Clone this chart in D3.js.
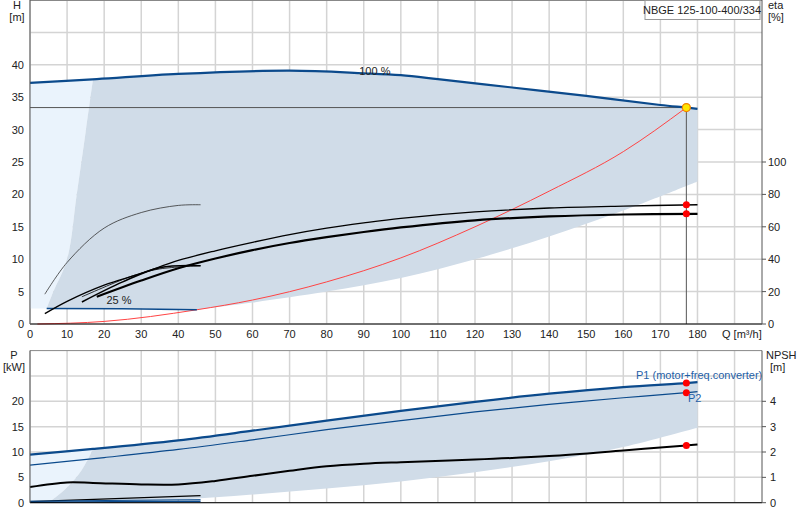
<!DOCTYPE html><html><head><meta charset="utf-8"><script src="https://cdn.jsdelivr.net/npm/d3@7"></script>
<style>body{margin:0;background:#fff}text{font-family:Arial,"Liberation Sans",sans-serif;font-size:11px;fill:#222}</style></head><body><svg id="c" width="800" height="520"></svg><script>
const qTicks=[0,10,20,30,40,50,60,70,80,90,100,110,120,130,140,150,160,170,180];
const hTicks=[0,5,10,15,20,25,30,35,40];
const etaTicks=[0,20,40,60,80,100];
const pTicks=[0,5,10,15,20];
const npshTicks=[0,1,2,3,4];
const head100=[[0,37.2],[18,37.8],[40,38.6],[70,39.1],[90,38.7],[100,38.4],[110,37.8],[130,36.5],[150,35.2],[170,33.8],[177,33.4],[180,33.2]];
const head25=[[4.5,2.4],[25,2.35],[45,2.2]];
const leftEdge=[[4.5,2.4],[6.3,5],[10,10],[12.6,20],[15.1,30],[17,37.8]];
const lowerEdge=[[180,22],[160,17.5],[140,13.5],[120,10],[100,7.1],[80,5],[60,3.3],[45,2.2]];
const system=[[2,0],[20,0.4],[45,2.2],[60,3.7],[80,6.5],[100,10.2],[120,15],[140,20.5],[160,26.6],[177,33.4]];
const etaUpper=[[4,6.4],[10,14],[20,24],[30,31.2],[40,39.2],[50,45.2],[60,50.4],[70,55.2],[80,59.2],[90,62.4],[100,65.2],[120,69.2],[140,71.6],[160,72.8],[180,73.6]];
const etaLower=[[18,16.8],[30,26.8],[40,34.4],[50,40.4],[60,45.6],[70,50],[80,53.6],[90,56.8],[100,59.6],[120,64],[140,66.4],[160,67.6],[180,68]];
const etaSmall=[[4,18.4],[10,38],[20,59.2],[30,68.8],[40,73.2],[46,73.6]];
const etaSmallA=[[14,13.6],[25,26],[35,34.8],[46,36]];
const etaSmallB=[[14,16.8],[28,30],[35,34],[46,36]];
const p1=[[0,9.5],[17,10.6],[40,12.3],[60,14.2],[80,16.2],[100,18.1],[120,19.9],[140,21.5],[160,22.8],[177,23.6],[180,23.8]];
const p2=[[0,7.4],[20,8.9],[40,10.5],[60,12.4],[80,14.4],[100,16.2],[120,17.9],[140,19.4],[160,20.7],[177,21.7],[180,21.9]];
const npsh=[[0,0.62],[10,0.8],[17,0.78],[30,0.72],[40,0.72],[50,0.86],[60,1.06],[70,1.26],[80,1.44],[90,1.54],[100,1.6],[120,1.7],[140,1.84],[160,2.06],[177,2.26],[180,2.3]];
const pLeftEdge=[[5,0],[10,3],[14,6.5],[17,10.6]];
const pLowerEdge=[[180,14.8],[160,11],[140,8.2],[120,6],[100,4.2],[80,2.8],[60,1.6],[40,0.6],[20,0.1],[5,0]];
const pSmall=[[0,0.2],[46,1.4]], pSmallB1=[[0,0.3],[46,0.6]], pSmallB2=[[0,0.1],[46,0.3]];
const duty=[177,33.4];

const svg=d3.select("#c");
const x=d3.scaleLinear().domain([0,197.4]).range([30,762]);
const y=d3.scaleLinear().domain([0,50]).range([324,0]);
const ye=d3.scaleLinear().domain([0,200]).range([324,0]);
const yp=d3.scaleLinear().domain([0,30]).range([502.7,350.6]);
const yn=d3.scaleLinear().domain([0,6]).range([502.7,350.6]);
const line=(ys)=>d3.line().x(d=>x(d[0])).y(d=>ys(d[1])).curve(d3.curveMonotoneX);
const lineC=(ys)=>d3.line().x(d=>x(d[0])).y(d=>ys(d[1])).curve(d3.curveCatmullRom);
const grid="#d4d4d4";
// top grid
const gq=qTicks.concat([190]);
svg.selectAll(".vg").data(gq).join("line").attr("x1",d=>x(d)).attr("x2",d=>x(d)).attr("y1",0).attr("y2",324).attr("stroke",grid).attr("stroke-width",1.5);
svg.selectAll(".hg").data(hTicks.concat([45])).join("line").attr("x1",30).attr("x2",762).attr("y1",d=>y(d)).attr("y2",d=>y(d)).attr("stroke",grid).attr("stroke-width",1.5);
// top regions
const upTo17=head100.filter(d=>d[0]<=18);
svg.append("path").attr("d",lineC(y)(head100.filter(d=>d[0]<=18)).replace(/^M/,"M")+"L"+x(leftEdge[5][0])+","+y(leftEdge[5][1])+lineC(y)(leftEdge.slice().reverse()).replace(/^M/,"L")+"L"+x(0)+","+y(2.4)+"Z").attr("fill","#eaf3fc");
const darkTop=head100.filter(d=>d[0]>=18);
let dpath=lineC(y)([leftEdge[5]].concat(darkTop))+lineC(y)(lowerEdge).replace(/^M/,"L")+lineC(y)(head25.slice().reverse()).replace(/^M/,"L")+lineC(y)(leftEdge).replace(/^M/,"L")+"Z";
svg.append("path").attr("d",dpath).attr("fill","#d0dce8");
// duty lines
svg.append("line").attr("x1",30).attr("x2",x(duty[0])).attr("y1",y(duty[1])).attr("y2",y(duty[1])).attr("stroke","#555");
svg.append("line").attr("x1",x(duty[0])).attr("x2",x(duty[0])).attr("y1",y(duty[1])).attr("y2",324).attr("stroke","#555");
// curves
svg.append("path").attr("d",line(y)(system)).attr("fill","none").attr("stroke","#f44").attr("stroke-width",1);
svg.append("path").attr("d",lineC(y)(head100)).attr("fill","none").attr("stroke","#0b4a8c").attr("stroke-width",2.2);
svg.append("path").attr("d",line(y)(head25)).attr("fill","none").attr("stroke","#0b4a8c").attr("stroke-width",1.5);
svg.append("path").attr("d",lineC(ye)(etaUpper)).attr("fill","none").attr("stroke","#000").attr("stroke-width",1.3);
svg.append("path").attr("d",lineC(ye)(etaLower)).attr("fill","none").attr("stroke","#000").attr("stroke-width",2.2);
svg.append("path").attr("d",lineC(ye)(etaSmall)).attr("fill","none").attr("stroke","#333").attr("stroke-width",0.8);
svg.append("path").attr("d",lineC(ye)(etaSmallA)).attr("fill","none").attr("stroke","#000").attr("stroke-width",1.6);
svg.append("path").attr("d",lineC(ye)(etaSmallB)).attr("fill","none").attr("stroke","#000").attr("stroke-width",0.8);
svg.append("text").attr("x",x(93)).attr("y",y(38.4)).attr("text-anchor","middle").text("100 %");
svg.append("text").attr("x",x(24)).attr("y",y(3.1)).attr("text-anchor","middle").text("25 %");
[[duty[0],etaUpper[etaUpper.length-1][1]*0+73.6],[duty[0],68]].forEach(d=>svg.append("circle").attr("cx",x(d[0])).attr("cy",ye(d[1])).attr("r",3.5).attr("fill","#f00"));
svg.append("circle").attr("cx",x(duty[0])).attr("cy",y(duty[1])).attr("r",4).attr("fill","#ffe600").attr("stroke","#f08000").attr("stroke-width",1.2);
// top axes
svg.append("line").attr("x1",30).attr("x2",762).attr("y1",324).attr("y2",324).attr("stroke","#000");
svg.append("line").attr("x1",30).attr("x2",762).attr("y1",0.5).attr("y2",0.5).attr("stroke","#888");
svg.append("line").attr("x1",30).attr("x2",30).attr("y1",0).attr("y2",324).attr("stroke","#555");
svg.append("line").attr("x1",762).attr("x2",762).attr("y1",0).attr("y2",324).attr("stroke","#555");
svg.selectAll(".ht").data(hTicks).join("text").attr("x",24).attr("y",d=>y(d)+4).attr("text-anchor","end").text(d=>d);
svg.selectAll(".qt").data(qTicks).join("text").attr("x",d=>x(d)).attr("y",338).attr("text-anchor","middle").text(d=>d);
svg.selectAll(".et").data(etaTicks).join("text").attr("x",768).attr("y",d=>ye(d)+4).text(d=>d);
svg.selectAll(".etk").data(etaTicks).join("line").attr("x1",762).attr("x2",766).attr("y1",d=>ye(d)).attr("y2",d=>ye(d)).attr("stroke","#555");
svg.append("text").attr("x",722).attr("y",338).text("Q [m³/h]");
svg.append("text").attr("x",17).attr("y",9).attr("text-anchor","middle").text("H");
svg.append("text").attr("x",17).attr("y",21).attr("text-anchor","middle").text("[m]");
svg.append("text").attr("x",768).attr("y",9).text("eta");
svg.append("text").attr("x",768).attr("y",21).text("[%]");
svg.append("rect").attr("x",645).attr("y",0.5).attr("width",115).attr("height",19).attr("fill","#fff").attr("stroke","#999");
svg.append("text").attr("x",702).attr("y",14).attr("text-anchor","middle").text("NBGE 125-100-400/334");
// bottom grid
svg.selectAll(".vg2").data(gq).join("line").attr("x1",d=>x(d)).attr("x2",d=>x(d)).attr("y1",350.6).attr("y2",502.7).attr("stroke",grid).attr("stroke-width",1.5);
svg.selectAll(".hg2").data(pTicks.concat([25])).join("line").attr("x1",30).attr("x2",762).attr("y1",d=>yp(d)).attr("y2",d=>yp(d)).attr("stroke",grid).attr("stroke-width",1.5);
svg.append("path").attr("d",lineC(yp)(p1.filter(d=>d[0]<=17))+lineC(yp)(pLeftEdge.slice().reverse()).replace(/^M/,"L")+"L"+x(0)+","+yp(0)+"Z").attr("fill","#eaf3fc");
svg.append("path").attr("d",lineC(yp)(p1.filter(d=>d[0]>=17))+lineC(yp)(pLowerEdge).replace(/^M/,"L")+lineC(yp)(pLeftEdge).replace(/^M/,"L")+"Z").attr("fill","#d0dce8");
svg.append("path").attr("d",lineC(yp)(p1)).attr("fill","none").attr("stroke","#0b4a8c").attr("stroke-width",2.2);
svg.append("path").attr("d",lineC(yp)(p2)).attr("fill","none").attr("stroke","#0b4a8c").attr("stroke-width",1.2);
svg.append("path").attr("d",lineC(yn)(npsh)).attr("fill","none").attr("stroke","#000").attr("stroke-width",2);
svg.append("path").attr("d",line(yp)(pSmall)).attr("fill","none").attr("stroke","#000").attr("stroke-width",1.2);
svg.append("path").attr("d",line(yp)(pSmallB1)).attr("fill","none").attr("stroke","#0b4a8c").attr("stroke-width",1);
svg.append("path").attr("d",line(yp)(pSmallB2)).attr("fill","none").attr("stroke","#0b4a8c").attr("stroke-width",1.5);
[[177,23.6],[177,21.7]].forEach(d=>svg.append("circle").attr("cx",x(d[0])).attr("cy",yp(d[1])).attr("r",3.5).attr("fill","#f00"));
svg.append("circle").attr("cx",x(177)).attr("cy",yn(2.26)).attr("r",3.5).attr("fill","#f00");
svg.append("text").attr("x",636).attr("y",379).style("fill","#1f5fa8").text("P1 (motor+freq.converter)");
svg.append("text").attr("x",688).attr("y",402).style("fill","#1f5fa8").text("P2");
svg.append("line").attr("x1",30).attr("x2",762).attr("y1",502.7).attr("y2",502.7).attr("stroke","#000");
svg.append("line").attr("x1",30).attr("x2",762).attr("y1",350.6).attr("y2",350.6).attr("stroke","#888");
svg.append("line").attr("x1",30).attr("x2",30).attr("y1",350.6).attr("y2",502.7).attr("stroke","#555");
svg.append("line").attr("x1",762).attr("x2",762).attr("y1",350.6).attr("y2",502.7).attr("stroke","#555");
svg.selectAll(".pt").data(pTicks).join("text").attr("x",24).attr("y",d=>yp(d)+4).attr("text-anchor","end").text(d=>d);
svg.selectAll(".nt").data(npshTicks).join("text").attr("x",770).attr("y",d=>yn(d)+4).text(d=>d);
svg.selectAll(".ntk").data(npshTicks).join("line").attr("x1",762).attr("x2",766).attr("y1",d=>yn(d)).attr("y2",d=>yn(d)).attr("stroke","#555");
svg.append("text").attr("x",14).attr("y",359).attr("text-anchor","middle").text("P");
svg.append("text").attr("x",14).attr("y",371).attr("text-anchor","middle").text("[kW]");
svg.append("text").attr("x",766).attr("y",359).text("NPSH");
svg.append("text").attr("x",770).attr("y",371).text("[m]");
</script></body></html>
